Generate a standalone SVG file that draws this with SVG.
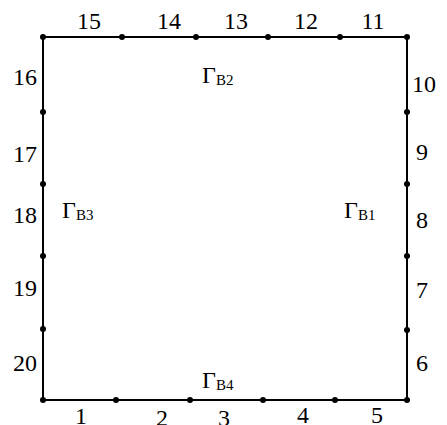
<svg xmlns="http://www.w3.org/2000/svg" width="447" height="425" viewBox="0 0 447 425">
<style>
.ln{stroke:#000;stroke-width:2;fill:none}
.d{fill:#000}
.n{font-family:"Liberation Serif",serif;font-size:24px;fill:#000}
.g{font-family:"Liberation Serif",serif;font-size:24px;fill:#000}
.s{font-size:15px}
</style>
<rect width="447" height="425" fill="#fff"/>
<g id="connectors">
<rect class="ln" x="43" y="37" width="364" height="363"/>
</g>
<g id="nodes">
<g id="dots-top"><circle class="d" cx="43" cy="37" r="3"/><circle class="d" cx="122" cy="37" r="3"/><circle class="d" cx="196" cy="37" r="3"/><circle class="d" cx="268" cy="37" r="3"/><circle class="d" cx="340" cy="37" r="3"/><circle class="d" cx="407" cy="37" r="3"/></g>
<g id="dots-bottom"><circle class="d" cx="43" cy="400" r="3"/><circle class="d" cx="116" cy="400" r="3"/><circle class="d" cx="190" cy="400" r="3"/><circle class="d" cx="263" cy="400" r="3"/><circle class="d" cx="335" cy="400" r="3"/><circle class="d" cx="407" cy="400" r="3"/></g>
<g id="dots-left"><circle class="d" cx="43" cy="112" r="3"/><circle class="d" cx="43" cy="184" r="3"/><circle class="d" cx="43" cy="256" r="3"/><circle class="d" cx="43" cy="329" r="3"/></g>
<g id="dots-right"><circle class="d" cx="407" cy="112" r="3"/><circle class="d" cx="407" cy="184" r="3"/><circle class="d" cx="407" cy="256" r="3"/><circle class="d" cx="407" cy="330" r="3"/></g>
</g>
<g id="labels" class="n" text-anchor="middle">
<text x="89" y="29">15</text><text x="169" y="29">14</text><text x="236" y="29">13</text><text x="306" y="29">12</text><text x="373" y="29">11</text>
<text x="25" y="85">16</text><text x="25" y="162">17</text><text x="25" y="223">18</text><text x="25" y="296">19</text><text x="25" y="371">20</text>
<text x="424" y="92">10</text><text x="422" y="160">9</text><text x="422" y="228">8</text><text x="422" y="298">7</text><text x="422" y="371">6</text>
<text x="81" y="424">1</text><text x="162" y="426">2</text><text x="224" y="426">3</text><text x="303" y="423">4</text><text x="377" y="423">5</text>
</g>
<g id="gamma" class="g">
<text x="202" y="83">Γ<tspan class="s" dy="2">B2</tspan></text>
<text x="202" y="388">Γ<tspan class="s" dy="2">B4</tspan></text>
<text x="62" y="218">Γ<tspan class="s" dy="2">B3</tspan></text>
<text x="344" y="218">Γ<tspan class="s" dy="2">B1</tspan></text>
</g>
</svg>
